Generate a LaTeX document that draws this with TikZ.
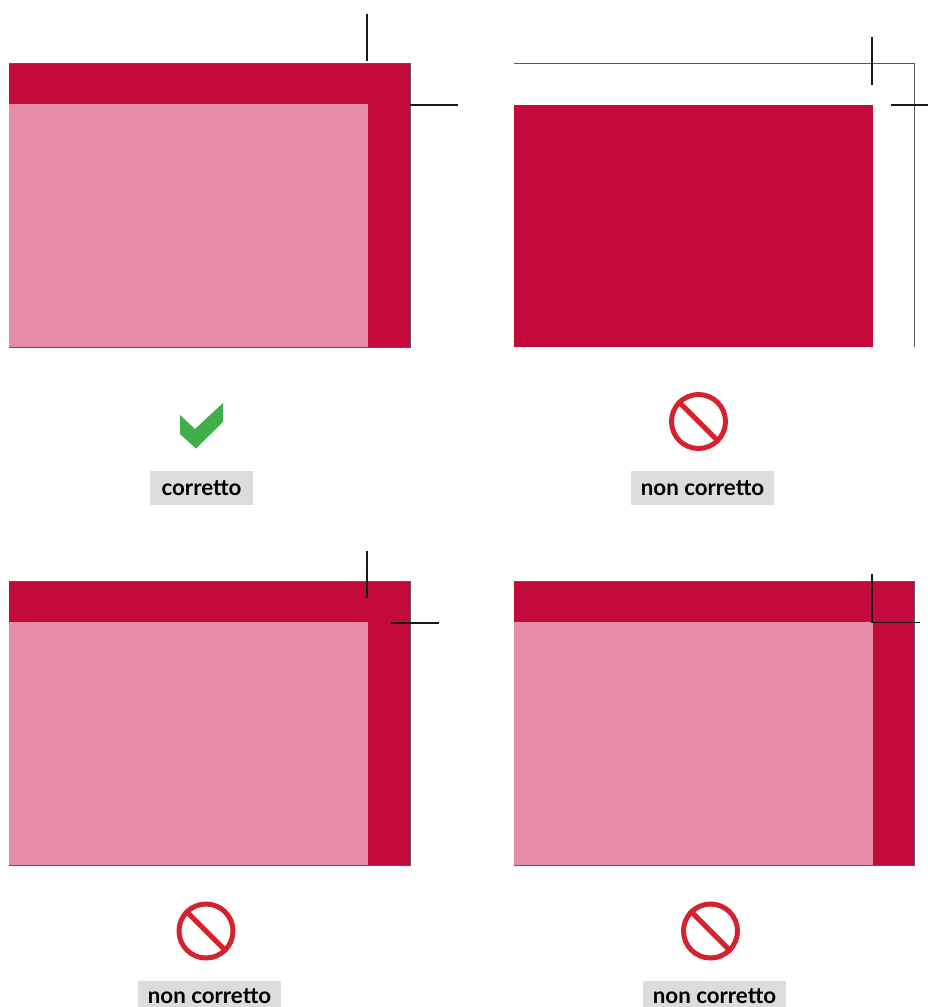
\documentclass[tikz,border=0pt]{standalone}
\usepackage{fontspec}
\setmainfont{Lato}
\definecolor{bleedred}{HTML}{C40A3A}
\definecolor{trimpink}{HTML}{E68DA5}
\definecolor{okgreen}{HTML}{3FAF4B}
\definecolor{nored}{HTML}{D2232E}
\definecolor{tagbg}{HTML}{DCDCDC}
\newcommand*{\xmax}{928}
\newcommand*{\ymax}{1007}

\begin{document}
\begin{tikzpicture}
[
	x=1pt,y=-1pt,
	bleed/.style={fill=bleedred},
	trim/.style={fill=trimpink},
	crop/.style={draw=black!90,line width=1.8pt},
	frame/.style={draw=black!65,line width=0.8pt},
	nosign/.style={circle,draw=nored,line width=5pt,inner sep=0pt,minimum size=54pt},
	noslash/.style={draw=nored,line width=5pt},
	tag/.style={fill=tagbg,inner sep=0pt,minimum height=34pt,text height=18.5pt,text depth=3pt,font=\fontsize{22.3}{25}\bfseries\selectfont}
]

	\clip (0,0) rectangle (\xmax,\ymax);

	% top left
	\fill[bleed] (9,63) rectangle (410,347.5);
	\fill[trim] (9,104) rectangle (368,347);
	\draw[frame] (9,63.4) -- (410,63.4) -- (410,347.5) -- (9,347.5);
	\draw[crop] (367,14) -- (367,61);
	\draw[crop] (410,105) -- (458,105);
	\fill[okgreen] (180,415) -- (195,429) -- (223,403) -- (223,422) -- (196,448.5) -- (180,434) -- cycle;
	\node[tag,minimum width=103pt] (okTag) at (201.5,488) {corretto};

	% top right
	\draw[frame] (514,63.5) -- (914.5,63.5) -- (914.5,347);
	\fill[bleed] (514,105) rectangle (873,347);
	\draw[crop] (871.8,37) -- (871.8,85);
	\draw[crop] (891,105) -- (928,105);
	\node[nosign] (signA) at (698.5,421.5) {};
	\draw[noslash] (signA.north west) -- (signA.south east);
	\node[tag,minimum width=143pt] (tagA) at (702.5,488) {non corretto};

	% bottom left
	\fill[bleed] (9,581) rectangle (410,865.5);
	\fill[trim] (9,622) rectangle (368,865);
	\draw[frame] (9,581.4) -- (410,581.4) -- (410,865.5) -- (9,865.5);
	\draw[crop] (367,551) -- (367,598);
	\draw[crop] (391,623) -- (439,623);
	\node[nosign] (signB) at (206,931) {};
	\draw[noslash] (signB.north west) -- (signB.south east);
	\node[tag,minimum width=143pt,minimum height=30pt] (tagB) at (209.5,996) {non corretto};

	% bottom right
	\fill[bleed] (514,581) rectangle (914.8,865.5);
	\fill[trim] (514,622) rectangle (873,865);
	\draw[frame] (514,581.4) -- (914.8,581.4) -- (914.8,865.5) -- (514,865.5);
	\draw[crop] (872,574) -- (872,622.5);
	\draw[crop] (872,622.5) -- (920,622.5);
	\node[nosign] (signC) at (710.5,931) {};
	\draw[noslash] (signC.north west) -- (signC.south east);
	\node[tag,minimum width=143pt,minimum height=30pt] (tagC) at (714.5,996) {non corretto};

\end{tikzpicture}
\end{document}
